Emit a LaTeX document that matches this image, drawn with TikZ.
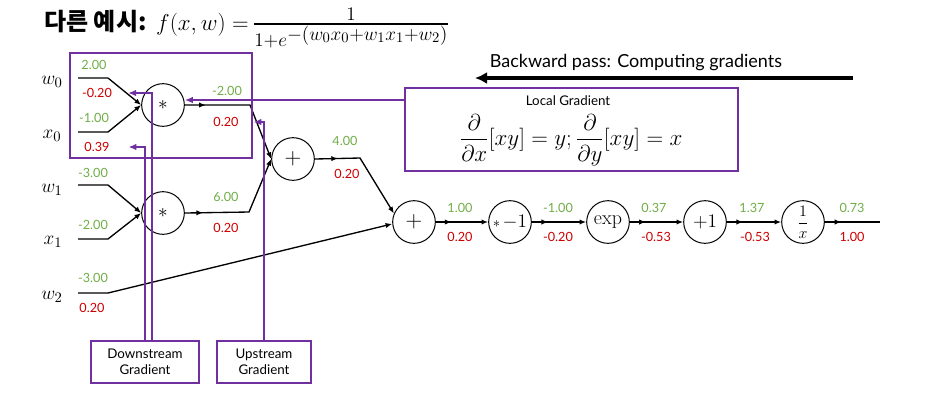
\documentclass[tikz,border=0pt]{standalone}
\usepackage{amsmath}
\usepackage{fontspec}
\setsansfont{Lato}
\newfontfamily\krfont{Noto Sans CJK KR}
\usepackage{tikz}
\usetikzlibrary{arrows.meta, positioning, decorations.markings}
\definecolor{gval}{RGB}{112,173,71}
\definecolor{rval}{RGB}{204,0,0}
\definecolor{purp}{RGB}{112,48,160}

\begin{document}
\begin{tikzpicture}[x=0.75pt, y=-0.75pt,
  op/.style={circle, draw, line width=0.75pt, minimum size=32pt, inner sep=0pt, font=\fontsize{15}{15}\selectfont},
  wire/.style={line width=1pt, -{Latex[length=5pt,width=4pt]}},
  midarr/.style={postaction={decorate}, decoration={markings, mark=at position #1 with {\arrow{Latex[length=5pt,width=4pt]}}}},
  fwd/.style={font=\sffamily\fontsize{9.5}{10}\selectfont, text=gval, inner sep=0pt},
  bwd/.style={font=\sffamily\fontsize{9.5}{10}\selectfont, text=rval, inner sep=0pt},
  var/.style={font=\fontsize{15}{15}\selectfont, inner sep=0pt},
  gbox/.style={draw=purp, line width=1.8pt, font=\sffamily\fontsize{10}{12}\selectfont, align=center, inner sep=0pt},
  frame/.style={draw=purp, line width=1.8pt},
  plink/.style={draw=purp, line width=1.8pt, -{Latex[length=6pt,width=5pt]}}
]
  \useasboundingbox (0,0) rectangle (930,419);

  \node[anchor=west, inner sep=0pt, font=\fontsize{18}{20}\selectfont] (title) at (44,28)
    {{\krfont\bfseries 다른 예시:} $f(x,w)=$\,\mbox{\fontsize{21.5}{22}\selectfont$\frac{1}{1+e^{\scriptstyle -(w_0x_0+w_1x_1+w_2)}}$}};

  \node[op] (mul1) at (163,105) {\raisebox{-2pt}{$*$}};
  \node[op] (mul2) at (163,213) {\raisebox{-2pt}{$*$}};
  \node[op, font=\fontsize{19}{19}\selectfont] (add1) at (293,159) {$+$};
  \node[op, font=\fontsize{19}{19}\selectfont] (add2) at (414,222) {$+$};
  \node[op] (neg) at (510,222) {$\scriptstyle *\,\textstyle {-}1$};
  \node[op] (exp) at (608,222) {exp};
  \node[op] (inc) at (705,222) {$+1$};
  \node[op, font=\fontsize{12.5}{13}\selectfont] (inv) at (803,222) {$\dfrac{1}{x}$};
  \coordinate (out) at (880,222);

  \node[var] (w0) at (52,82) {$w_0$};
  \node[var] (x0) at (52,136) {$x_0$};
  \node[var] (w1) at (52,190) {$w_1$};
  \node[var] (x1) at (53,242) {$x_1$};
  \node[var] (w2) at (52,297) {$w_2$};

  \coordinate (w0a) at (78,78);  \coordinate (w0b) at (108,78);
  \coordinate (x0a) at (78,132); \coordinate (x0b) at (108,132);
  \coordinate (w1a) at (78,185); \coordinate (w1b) at (108,185);
  \coordinate (x1a) at (78,239); \coordinate (x1b) at (108,239);
  \coordinate (w2a) at (78,293); \coordinate (w2b) at (108,293);
  \coordinate (k1) at (250,105);
  \coordinate (k2) at (249,212);
  \coordinate (k3) at (360,158);

  \draw[wire] (w0a) -- (w0b) -- (mul1.west);
  \draw[wire] (x0a) -- (x0b) -- (mul1.west);
  \draw[wire] (w1a) -- (w1b) -- (mul2.west);
  \draw[wire] (x1a) -- (x1b) -- (mul2.west);
  \draw[wire] (w2a) -- (w2b) -- (add2.185);
  \draw[wire, midarr=0.17] (mul1.east) -- (k1) -- (add1.west);
  \draw[wire, midarr=0.15] (mul2.east) -- (k2) -- (add1.west);
  \draw[wire, midarr=0.21] (add1.east) -- (k3) -- (add2.157);
  \draw[wire, midarr=0.3] (add2) -- (neg);
  \draw[wire, midarr=0.3] (neg) -- (exp);
  \draw[wire, midarr=0.3] (exp) -- (inc);
  \draw[wire, midarr=0.3] (inc) -- (inv);
  \draw[line width=1pt, midarr=0.3] (inv) -- (out);

  \node[fwd] (gw0) at (94,65) {2.00};
  \node[bwd] (rw0) at (97,93) {-0.20};
  \node[fwd] (gx0) at (94,118) {-1.00};
  \node[bwd] (rx0) at (97,147) {0.39};
  \node[fwd] (gw1) at (93,173) {-3.00};
  \node[fwd] (gx1) at (93,225) {-2.00};
  \node[fwd] (gw2) at (93,278) {-3.00};
  \node[bwd] (rw2) at (92,308) {0.20};
  \node[fwd] (gm1) at (227,91) {-2.00};
  \node[bwd] (rm1) at (226,122) {0.20};
  \node[fwd] (gm2) at (226,197) {6.00};
  \node[bwd] (rm2) at (226,228) {0.20};
  \node[fwd] (ga1) at (345,141) {4.00};
  \node[bwd] (ra1) at (347,174) {0.20};
  \node[fwd] (ga2) at (460,208) {1.00};
  \node[bwd] (ra2) at (460,237) {0.20};
  \node[fwd] (gneg) at (558,208) {-1.00};
  \node[bwd] (rneg) at (558,237) {-0.20};
  \node[fwd] (gexp) at (654,208) {0.37};
  \node[bwd] (rexp) at (656,237) {-0.53};
  \node[fwd] (ginc) at (752,208) {1.37};
  \node[bwd] (rinc) at (755,237) {-0.53};
  \node[fwd] (ginv) at (852,208) {0.73};
  \node[bwd] (rinv) at (852,237) {1.00};

  \node[font=\sffamily\fontsize{13.5}{15}\selectfont] (bp) at (636,63) {Backward pass: Computing gradients};
  \coordinate (bpa) at (853,78);
  \coordinate (bpb) at (475,78);
  \draw[line width=3pt, -{Latex[length=9pt,width=9pt]}] (bpa) -- (bpb);

  \draw[frame] (70,53) rectangle (252,158);
  \node[gbox, minimum width=250pt, minimum height=62pt] (lg) at (571.5,129.5) {};
  \node[font=\sffamily\fontsize{10}{12}\selectfont] (lgt) at (568,101) {Local Gradient};
  \node[font=\fontsize{18}{20}\selectfont] (lgf) at (571,140)
    {$\dfrac{\partial}{\partial x}[xy]=y;\dfrac{\partial}{\partial y}[xy]=x$};

  \node[gbox, minimum width=81pt, minimum height=31.5pt] (down) at (145,362) {Downstream\\Gradient};
  \node[gbox, minimum width=70.5pt, minimum height=31.5pt] (up) at (264,362) {Upstream\\Gradient};

  \draw[plink] (lg.west |- 0,100) -- (mul1.east |- 0,100);
  \draw[plink] (down.north -| 152,0) |- ([xshift=12pt]rw0.east);
  \draw[plink] (down.north -| 145,0) |- ([xshift=14pt]rx0.east);
  \draw[plink] (up.north) |- ([xshift=11pt]rm1.east);
\end{tikzpicture}
\end{document}
